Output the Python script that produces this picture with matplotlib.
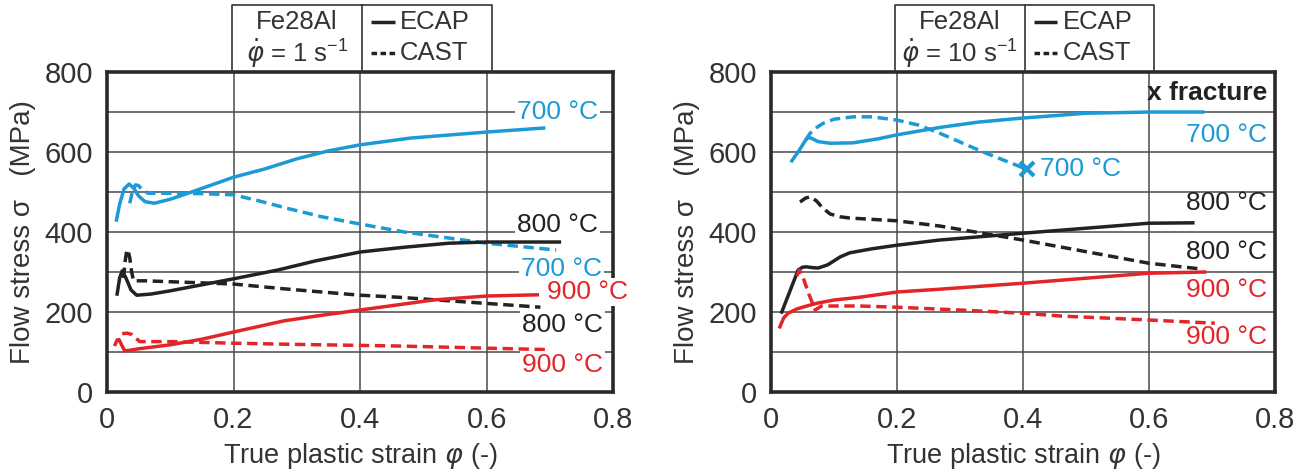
import matplotlib
matplotlib.use("Agg")
import matplotlib.pyplot as plt
from matplotlib.ticker import MultipleLocator

plt.rcParams['font.family'] = ['Liberation Sans', 'DejaVu Sans']
plt.rcParams['mathtext.fontset'] = 'dejavusans'

BLUE = '#1b9ad6'
RED = '#e42528'
BLACK = '#222222'

# ---- strain rate 1 s^-1 ----
r1_ecap700_x = [0.015, 0.02, 0.027, 0.035, 0.042, 0.05, 0.06, 0.075, 0.1, 0.13, 0.2, 0.25, 0.3, 0.35, 0.4, 0.48, 0.6, 0.69]
r1_ecap700_y = [430, 470, 508, 520, 510, 490, 476, 472, 482, 498, 537, 558, 583, 603, 618, 635, 650, 660]
r1_cast700_x = [0.036, 0.04, 0.045, 0.05, 0.056, 0.065, 0.1, 0.15, 0.2, 0.24, 0.288, 0.34, 0.4, 0.47, 0.54, 0.6, 0.71]
r1_cast700_y = [472, 500, 518, 516, 505, 497, 497, 496, 493, 478, 458, 438, 420, 400, 385, 372, 355]
r1_ecap800_x = [0.016, 0.02, 0.024, 0.03, 0.038, 0.047, 0.07, 0.1, 0.15, 0.2, 0.27, 0.33, 0.4, 0.47, 0.54, 0.6, 0.715]
r1_ecap800_y = [245, 285, 303, 285, 255, 242, 245, 253, 268, 283, 305, 328, 350, 362, 372, 375, 375]
r1_cast800_x = [0.026, 0.029, 0.031, 0.033, 0.036, 0.039, 0.042, 0.06, 0.2, 0.28, 0.4, 0.46, 0.685]
r1_cast800_y = [285, 330, 352, 356, 335, 300, 278, 278, 270, 258, 242, 237, 212]
r1_ecap900_x = [0.013, 0.016, 0.019, 0.023, 0.028, 0.035, 0.05, 0.1, 0.15, 0.2, 0.28, 0.34, 0.4, 0.46, 0.515, 0.6, 0.68]
r1_ecap900_y = [119, 130, 131, 118, 103, 104, 108, 118, 132, 150, 178, 192, 205, 218, 230, 240, 243]
r1_cast900_x = [0.024, 0.032, 0.039, 0.045, 0.052, 0.1, 0.2, 0.3, 0.46, 0.695]
r1_cast900_y = [146, 147, 144, 135, 126, 126, 122, 119, 115, 106]

# ---- strain rate 10 s^-1 ----
r10_ecap700_x = [0.033, 0.045, 0.055, 0.06, 0.066, 0.075, 0.094, 0.13, 0.17, 0.2, 0.27, 0.33, 0.4, 0.5, 0.6, 0.686]
r10_ecap700_y = [578, 605, 630, 637, 633, 626, 622, 623, 633, 643, 662, 675, 685, 697, 700, 700]
r10_cast700_x = [0.055, 0.062, 0.073, 0.083, 0.1, 0.13, 0.16, 0.2, 0.235, 0.268, 0.337, 0.406]
r10_cast700_y = [630, 647, 662, 672, 682, 688, 688, 680, 667, 647, 600, 557]
r10_ecap800_x = [0.017, 0.043, 0.05, 0.056, 0.065, 0.075, 0.09, 0.11, 0.125, 0.16, 0.2, 0.268, 0.4, 0.6, 0.67]
r10_ecap800_y = [200, 305, 312, 313, 311, 310, 318, 338, 348, 358, 367, 380, 397, 422, 423]
r10_cast800_x = [0.046, 0.055, 0.062, 0.072, 0.082, 0.094, 0.11, 0.125, 0.2, 0.268, 0.4, 0.6, 0.681]
r10_cast800_y = [475, 485, 488, 478, 460, 445, 438, 435, 428, 415, 380, 322, 308]
r10_ecap900_x = [0.014, 0.02, 0.027, 0.04, 0.05, 0.073, 0.1, 0.141, 0.2, 0.268, 0.4, 0.6, 0.689]
r10_ecap900_y = [163, 185, 197, 207, 212, 222, 230, 237, 250, 257, 272, 297, 300]
r10_cast900_x = [0.041, 0.045, 0.05, 0.06, 0.07, 0.08, 0.141, 0.2, 0.3, 0.4, 0.46, 0.6, 0.705]
r10_cast900_y = [290, 305, 290, 245, 205, 215, 215, 212, 205, 197, 190, 180, 172]
fracture_x = [0.406]
fracture_y = [557]

xticks = [0, 0.2, 0.4, 0.6, 0.8]
yticks = [0, 200, 400, 600, 800]

LW = 2.5
DASH = (3.0, 1.6)

fig = plt.figure(figsize=(13.08, 4.74), dpi=100)
ax1 = fig.add_axes([0.0818, 0.173, 0.387, 0.675])
ax2 = fig.add_axes([0.5895, 0.173, 0.385, 0.675])


def style_axes(ax):
    ax.set_xlim(0, 0.8)
    ax.set_ylim(0, 800)
    ax.set_xticks(xticks)
    ax.set_xticklabels(['0', '0.2', '0.4', '0.6', '0.8'])
    ax.set_yticks(yticks)
    ax.yaxis.set_minor_locator(MultipleLocator(100))
    ax.grid(True, which='both', color='#4a4a4a', linewidth=1.1)
    ax.set_axisbelow(True)
    ax.tick_params(which='both', length=0, labelsize=21, colors='#333333', pad=10)
    for s in ax.spines.values():
        s.set_linewidth(2.6)
        s.set_color('#2a2a2a')
        s.set_zorder(6)
    ax.set_xlabel(r'True plastic strain $\varphi$ (-)', fontsize=19.5, color='#333333', labelpad=5)
    ax.set_ylabel('Flow stress σ   (MPa)', fontsize=20, color='#333333', labelpad=6)


def legend_box(ax, rate):
    kw = dict(color='#333333', lw=1.2, clip_on=False, zorder=7)
    ax.plot([0.197, 0.197, 0.608, 0.608], [800, 967, 967, 800], **kw)
    ax.plot([0.403, 0.403], [800, 967], **kw)
    ax.text(0.30, 925, 'Fe28Al', ha='center', va='center', fontsize=18.5, color='#333333')
    ax.text(0.30, 848, r'$\dot{\varphi}$ = ' + rate + r' s$^{\mathregular{-1}}$', ha='center', va='center',
            fontsize=18.5, color='#333333')
    ax.plot([0.418, 0.455], [925, 925], color=BLACK, lw=LW, clip_on=False, solid_capstyle='butt')
    ax.plot([0.418, 0.455], [848, 848], color=BLACK, lw=LW, clip_on=False, dashes=(1.6, 1.0))
    ax.text(0.463, 925, 'ECAP', ha='left', va='center', fontsize=18.5, color='#333333')
    ax.text(0.463, 848, 'CAST', ha='left', va='center', fontsize=18.5, color='#333333')


style_axes(ax1)
style_axes(ax2)

ckw = dict(lw=LW, zorder=3, solid_joinstyle='round', dash_joinstyle='round')

# left chart
ax1.plot(r1_ecap700_x, r1_ecap700_y, color=BLUE, **ckw)
ax1.plot(r1_cast700_x, r1_cast700_y, color=BLUE, dashes=DASH, **ckw)
ax1.plot(r1_ecap800_x, r1_ecap800_y, color=BLACK, **ckw)
ax1.plot(r1_cast800_x, r1_cast800_y, color=BLACK, dashes=DASH, **ckw)
ax1.plot(r1_ecap900_x, r1_ecap900_y, color=RED, **ckw)
ax1.plot(r1_cast900_x, r1_cast900_y, color=RED, dashes=DASH, **ckw)

bb = dict(facecolor='white', edgecolor='none', pad=1.5)
lkw = dict(fontsize=19, va='center', bbox=bb, zorder=8, clip_on=False)
ax1.text(0.712, 700, '700 °C', color=BLUE, ha='center', **lkw)
ax1.text(0.712, 418, '800 °C', color=BLACK, ha='center', **lkw)
ax1.text(0.718, 308, '700 °C', color=BLUE, ha='center', **lkw)
ax1.text(0.695, 250, '900 °C', color=RED, ha='left', **lkw)
ax1.text(0.72, 168, '800 °C', color=BLACK, ha='center', **lkw)
ax1.text(0.72, 68, '900 °C', color=RED, ha='center', **lkw)

# right chart
ax2.plot(r10_ecap700_x, r10_ecap700_y, color=BLUE, **ckw)
ax2.plot(r10_cast700_x, r10_cast700_y, color=BLUE, dashes=DASH, **ckw)
ax2.plot(fracture_x, fracture_y, 'x', color=BLUE, ms=10, mew=3, zorder=4)
ax2.plot(r10_ecap800_x, r10_ecap800_y, color=BLACK, **ckw)
ax2.plot(r10_cast800_x, r10_cast800_y, color=BLACK, dashes=DASH, **ckw)
ax2.plot(r10_ecap900_x, r10_ecap900_y, color=RED, **ckw)
ax2.plot(r10_cast900_x, r10_cast900_y, color=RED, dashes=DASH, **ckw)

rkw = dict(fontsize=19, va='center', ha='right', zorder=8)
ax2.text(0.788, 748, 'x fracture', color='#222222', fontweight='bold', **rkw)
ax2.text(0.788, 642, '700 °C', color=BLUE, **rkw)
ax2.text(0.788, 472, '800 °C', color=BLACK, **rkw)
ax2.text(0.788, 350, '800 °C', color=BLACK, **rkw)
ax2.text(0.788, 255, '900 °C', color=RED, **rkw)
ax2.text(0.788, 137, '900 °C', color=RED, **rkw)
ax2.text(0.428, 557, '700 °C', color=BLUE, fontsize=19, va='center', ha='left', zorder=8)

legend_box(ax1, '1')
legend_box(ax2, '10')

fig.savefig('out.png', dpi=100)
